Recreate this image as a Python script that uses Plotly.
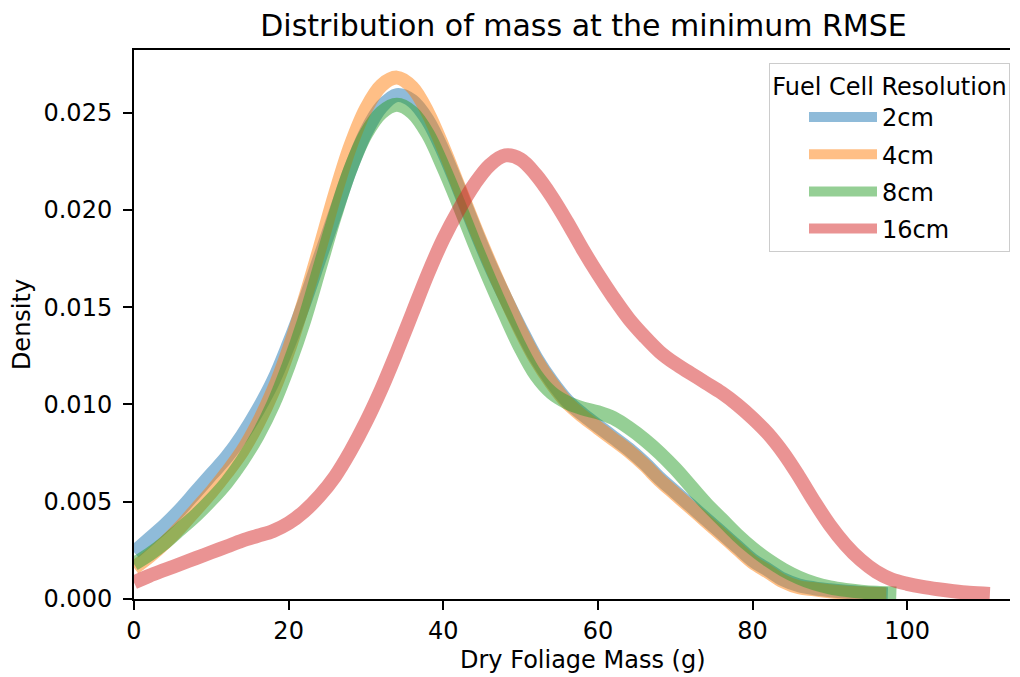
import plotly.graph_objects as go

# ---- data ----
labels = ["2cm", "4cm", "8cm", "16cm"]
colors = ["rgba(31,119,180,0.5)", "rgba(255,127,14,0.5)",
          "rgba(44,160,44,0.5)", "rgba(214,39,40,0.5)"]

x_2cm = [0, 2, 4, 6, 8, 10, 12, 14, 16, 18, 20, 22, 24, 26, 28, 30, 32, 34, 36, 38,
         40, 42, 44, 46, 48, 50, 52, 54, 56, 58, 60, 62, 64, 66, 68, 70, 72, 74, 76,
         78, 80, 82, 84, 86, 88, 90, 92, 94, 96, 97.5]
y_2cm = [0.0024, 0.0031, 0.0038, 0.0046, 0.0055, 0.0064, 0.0073, 0.0084, 0.0097,
         0.0112, 0.0131, 0.0152, 0.0175, 0.0198, 0.0221, 0.0240, 0.0253, 0.0259,
         0.0256, 0.0246, 0.0230, 0.0211, 0.0191, 0.0172, 0.0155, 0.0139, 0.0124,
         0.0112, 0.0102, 0.0095, 0.0089, 0.0083, 0.0077, 0.0070, 0.0062, 0.0055,
         0.0048, 0.0041, 0.0034, 0.0027, 0.0020, 0.0015, 0.0010, 0.0007, 0.00055,
         0.00045, 0.00037, 0.00031, 0.00027, 0.00025]

x_4cm = [0, 2, 4, 6, 8, 10, 12, 14, 16, 18, 20, 22, 24, 26, 28, 30, 32, 34, 36, 38,
         40, 42, 44, 46, 48, 50, 52, 54, 56, 58, 60, 62, 64, 66, 68, 70, 72, 74, 76,
         78, 80, 82, 84, 86, 88, 90, 92, 94, 96, 97.3]
y_4cm = [0.0016, 0.0022, 0.0029, 0.0037, 0.0046, 0.0055, 0.0065, 0.0076, 0.0090,
         0.0107, 0.0128, 0.0153, 0.0180, 0.0208, 0.0233, 0.0252, 0.0264, 0.0268,
         0.0263, 0.0250, 0.0232, 0.0212, 0.0192, 0.0173, 0.0155, 0.0138, 0.0123,
         0.0111, 0.0101, 0.0094, 0.0088, 0.0082, 0.0076, 0.0069, 0.0061, 0.0054,
         0.0047, 0.0040, 0.0033, 0.0026, 0.0019, 0.0014, 0.0009, 0.0006, 0.0005,
         0.0004, 0.00033, 0.00029, 0.00026, 0.00025]

x_8cm = [0, 2, 4, 6, 8, 10, 12, 14, 16, 18, 20, 22, 24, 26, 28, 30, 32, 34, 36, 38,
         40, 42, 44, 46, 48, 50, 52, 54, 56, 58, 60, 62, 64, 66, 68, 70, 72, 74, 76,
         78, 80, 82, 84, 86, 88, 90, 92, 94, 96, 98.6]
y_8cm = [0.0018, 0.0023, 0.0029, 0.0036, 0.0043, 0.0051, 0.0060, 0.0071, 0.0084,
         0.0100, 0.0120, 0.0143, 0.0170, 0.0197, 0.0221, 0.0239, 0.0250, 0.0254,
         0.0250, 0.0239, 0.0222, 0.0203, 0.0183, 0.0164, 0.0146, 0.0129, 0.0115,
         0.0106, 0.0101, 0.0098, 0.0096, 0.0093, 0.0088, 0.0082, 0.0075, 0.0067,
         0.0058, 0.0049, 0.0041, 0.0033, 0.0026, 0.0020, 0.0015, 0.0011, 0.0008,
         0.0006, 0.00047, 0.00038, 0.00032, 0.00028]

x_16cm = [0, 2, 4, 6, 8, 10, 12, 14, 16, 18, 20, 22, 24, 26, 28, 30, 32, 34, 36, 38,
          40, 42, 44, 46, 48, 50, 52, 54, 56, 58, 60, 62, 64, 66, 68, 70, 72, 74, 76,
          78, 80, 82, 84, 86, 88, 90, 92, 94, 96, 98, 100, 102, 104, 106, 108, 110.7]
y_16cm = [0.00085, 0.0012, 0.0015, 0.0018, 0.0021, 0.0024, 0.0027, 0.0030, 0.00325,
          0.0035, 0.0039, 0.0045, 0.0053, 0.0063, 0.0076, 0.0091, 0.0108, 0.0127,
          0.0147, 0.0167, 0.0185, 0.0200, 0.0213, 0.0223, 0.0228, 0.0226, 0.0218,
          0.0207, 0.0194, 0.0180, 0.0167, 0.0155, 0.0144, 0.0135, 0.0127, 0.0121,
          0.0116, 0.0111, 0.0106, 0.0100, 0.0093, 0.0085, 0.0075, 0.0063, 0.0050,
          0.0038, 0.0028, 0.0020, 0.0014, 0.0010, 0.00078, 0.00062, 0.00050,
          0.00040, 0.00032, 0.00026]

x_ticks = [0, 20, 40, 60, 80, 100]
y_ticks = [0.000, 0.005, 0.010, 0.015, 0.020, 0.025]

series = [(x_2cm, y_2cm), (x_4cm, y_4cm), (x_8cm, y_8cm), (x_16cm, y_16cm)]

FONT = "DejaVu Sans"
W, H = 1012, 669  # page body adds an 8px offset

fig = go.Figure()
for (xs, ys), name, col in zip(series, labels, colors):
    fig.add_trace(go.Scatter(
        x=xs, y=ys, mode="lines", name=name, legendgroup=name,
        line=dict(color=col, width=14, shape="spline", smoothing=1.0),
    ))

fig.update_layout(
    width=W, height=H,
    margin=dict(l=126, r=10, t=42, b=78, autoexpand=False),
    paper_bgcolor="white", plot_bgcolor="white",
    font=dict(family=FONT, size=24, color="black"),
    title=dict(text="Distribution of mass at the minimum RMSE",
               x=575.5 / W, xanchor="center", xref="container",
               y=1 - 17 / H, yanchor="middle", yref="container",
               font=dict(family=FONT, size=30, color="black")),
    showlegend=True,
    legend=dict(
        title=dict(text="Fuel Cell Resolution", side="top center",
                   font=dict(family=FONT, size=24)),
        x=1, xanchor="right", y=1 - 12.7 / 549, yanchor="top",
        bgcolor="rgba(255,255,255,0.8)", bordercolor="#cccccc", borderwidth=1,
        font=dict(family=FONT, size=24), itemwidth=68,
        tracegroupgap=3, indentation=34,
    ),
    annotations=[dict(
        text="Dry Foliage Mass (g)", xref="paper", yref="paper",
        x=(582.5 - 134) / 876, y=0, xanchor="center", yanchor="middle",
        yshift=-61, showarrow=False, font=dict(family=FONT, size=24, color="black"),
    )],
)

fig.update_xaxes(
    range=[0, 113.3], tickvals=x_ticks, ticktext=[str(v) for v in x_ticks],
    ticks="outside", ticklen=9, tickwidth=2, tickcolor="black",
    showline=True, linecolor="black", linewidth=2, mirror=True,
    showgrid=False, zeroline=False, automargin=False,
    tickfont=dict(family=FONT, size=24),
)
fig.update_yaxes(
    range=[0, 0.02822], tickvals=y_ticks, ticktext=[f"{v:.3f}" for v in y_ticks],
    ticks="outside", ticklen=9, tickwidth=2, tickcolor="black",
    showline=True, linecolor="black", linewidth=2, mirror=False,
    showgrid=False, zeroline=False, automargin=False, ticklabelstandoff=6,
    tickfont=dict(family=FONT, size=24),
    title=dict(text="Density", font=dict(family=FONT, size=24), standoff=12),
)

fig.write_html("out.html")
